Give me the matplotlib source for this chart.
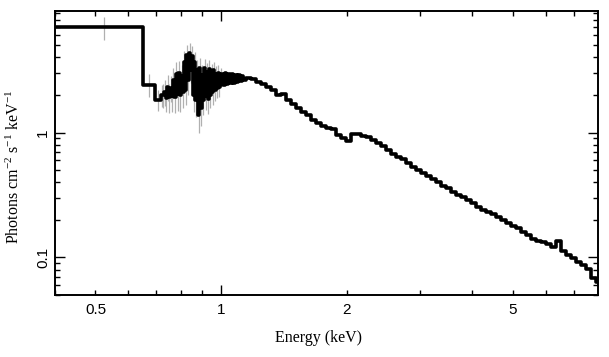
import matplotlib
matplotlib.use("Agg")
import matplotlib.pyplot as plt
from matplotlib.ticker import FixedLocator, FixedFormatter, NullFormatter

# Unfolded X-ray spectrum

# bin edges (keV), one more than the flux values
energy_edges = [
    0.40, 0.65, 0.695,
    0.718, 0.724, 0.730, 0.736, 0.742, 0.748, 0.754, 0.760, 0.766, 0.772,
    0.778, 0.784, 0.790, 0.796, 0.802, 0.808, 0.814, 0.820, 0.826, 0.832,
    0.838, 0.844, 0.850, 0.856, 0.862, 0.868, 0.874, 0.880, 0.886, 0.892,
    0.898, 0.904, 0.910, 0.916, 0.922, 0.928, 0.934, 0.940, 0.946, 0.952,
    0.958, 0.964, 0.970, 0.976, 0.982, 0.988, 0.994,
    1.000, 1.010, 1.020, 1.030, 1.040, 1.050, 1.060, 1.070, 1.080, 1.090,
    1.100, 1.110, 1.120, 1.130,
    1.148, 1.180, 1.213, 1.247, 1.282,
    1.318, 1.355, 1.393, 1.432, 1.472, 1.513, 1.555, 1.599, 1.644, 1.690,
    1.737, 1.786, 1.836, 1.887, 1.940, 1.994, 2.050, 2.108, 2.167, 2.227,
    2.290, 2.354, 2.420, 2.488, 2.557, 2.629, 2.702, 2.778, 2.856, 2.935,
    3.017, 3.102, 3.188, 3.278, 3.369, 3.463, 3.560, 3.660, 3.762, 3.868,
    3.976, 4.087, 4.202, 4.319, 4.440, 4.564, 4.692, 4.823, 4.958, 5.097,
    5.240, 5.387, 5.537, 5.692, 5.852, 6.015, 6.184, 6.357, 6.535, 6.718,
    6.906, 7.099, 7.298, 7.502, 7.712, 7.928, 8.0,
]

# photons cm^-2 s^-1 keV^-1
flux = [
    7.0, 2.42, 1.83,
    2.01, 2.01, 2.12, 1.90, 2.33, 1.94, 2.29, 1.97, 2.65, 1.94,
    2.96, 2.05, 3.01, 2.01, 2.85, 2.12, 3.69, 2.20, 4.19, 2.65,
    4.35, 3.18, 4.11, 2.01, 3.69, 1.83, 3.18, 1.39, 3.30, 1.58,
    2.90, 1.83, 3.30, 1.97, 3.07, 1.87, 3.24, 2.01, 3.01, 2.12,
    3.18, 2.20, 2.96, 2.29, 3.01, 2.33, 2.90,
    2.95, 2.40, 2.98, 2.45, 2.92, 2.48, 2.95, 2.50, 2.90, 2.55,
    2.88, 2.58, 2.85, 2.62,
    2.75, 2.70, 2.55, 2.46, 2.33,
    2.20, 2.01, 2.05, 1.83, 1.70, 1.58, 1.47, 1.37, 1.27, 1.20,
    1.12, 1.08, 1.06, 0.964, 0.896, 0.848, 0.98, 0.98, 0.946, 0.929,
    0.879, 0.832, 0.773, 0.718, 0.667, 0.632, 0.609, 0.566, 0.526, 0.497,
    0.471, 0.445, 0.422, 0.399, 0.371, 0.357, 0.332, 0.314, 0.303, 0.287,
    0.271, 0.252, 0.238, 0.230, 0.222, 0.210, 0.199, 0.188, 0.178, 0.171,
    0.159, 0.151, 0.140, 0.135, 0.132, 0.128, 0.121, 0.135, 0.112, 0.104,
    0.0988, 0.0918, 0.0868, 0.0807, 0.0684, 0.0635,
]

# flux errors for the low-energy bins (higher bins hide them under the line)
flux_err = [
    1.45, 0.50, 0.35,
    0.40, 0.45, 0.50, 0.45, 0.55, 0.50, 0.55, 0.50, 0.65, 0.50,
    0.70, 0.55, 0.70, 0.55, 0.65, 0.55, 0.80, 0.55, 0.85, 0.65,
    0.85, 0.70, 0.80, 0.55, 0.75, 0.50, 0.65, 0.40, 0.65, 0.45,
    0.55, 0.45, 0.60, 0.45, 0.55, 0.45, 0.55, 0.45, 0.50, 0.45,
    0.50, 0.40, 0.45, 0.40, 0.45, 0.40, 0.40,
]

x_ticks = [0.5, 1, 2, 5]
y_ticks = [0.1, 1]

plt.rcParams["mathtext.fontset"] = "custom"
plt.rcParams["mathtext.rm"] = "Liberation Serif"
plt.rcParams["mathtext.it"] = "Liberation Serif:italic"

fig = plt.figure(figsize=(6.09, 3.57), dpi=100)
ax = fig.add_axes([55 / 609, 62 / 357, 543 / 609, 284 / 357])

# gray error bars at bin centres
n_err = len(flux_err)
centres = [(energy_edges[i] + energy_edges[i + 1]) / 2 for i in range(n_err)]
ax.errorbar(centres, flux[:n_err], yerr=flux_err, fmt="none",
            ecolor="#b0b0b0", elinewidth=0.9, capsize=0, zorder=1)

ax.step(energy_edges, flux + [flux[-1]], where="post",
        color="black", lw=2.6, zorder=2)

ax.set_xscale("log")
ax.set_yscale("log")
ax.set_xlim(0.4, 8.0)
ax.set_ylim(0.05, 9.4)

# only decades get the long tick; other labelled values use short ones
ax.xaxis.set_major_locator(FixedLocator([1]))
ax.xaxis.set_major_formatter(FixedFormatter(["1"]))
x_minor = [0.4, 0.5, 0.6, 0.7, 0.8, 0.9, 2, 3, 4, 5, 6, 7]
ax.xaxis.set_minor_locator(FixedLocator(x_minor))
ax.xaxis.set_minor_formatter(FixedFormatter(
    [str(v) if v in x_ticks else "" for v in x_minor]))

ax.yaxis.set_major_locator(FixedLocator(y_ticks))
ax.yaxis.set_major_formatter(FixedFormatter(["0.1", "1"]))
y_minor = [0.05, 0.06, 0.07, 0.08, 0.09, 0.2, 0.3, 0.4, 0.5, 0.6, 0.7,
           0.8, 0.9, 2, 3, 4, 5, 6, 7, 8, 9]
ax.yaxis.set_minor_locator(FixedLocator(y_minor))
ax.yaxis.set_minor_formatter(NullFormatter())

ax.tick_params(which="both", direction="in", top=True, right=True,
               width=1.0, labelsize=11, labelfontfamily="Liberation Sans")
ax.tick_params(which="major", length=7)
ax.tick_params(which="minor", length=3.5)
ax.tick_params(axis="x", which="both", pad=6)
for lab in ax.get_yticklabels():
    lab.set_rotation(90)
    lab.set_va("center")

for sp in ax.spines.values():
    sp.set_linewidth(1.4)

ax.set_xlabel("Energy (keV)", family="Liberation Serif", fontsize=11.5)
ax.set_ylabel("Photons cm$^{-2}$ s$^{-1}$ keV$^{-1}$",
              family="Liberation Serif", fontsize=11.5)
ax.xaxis.set_label_coords(0.486, -0.125)
ax.yaxis.set_label_coords(-0.059, 0.452)

fig.savefig("out.png", dpi=100)
